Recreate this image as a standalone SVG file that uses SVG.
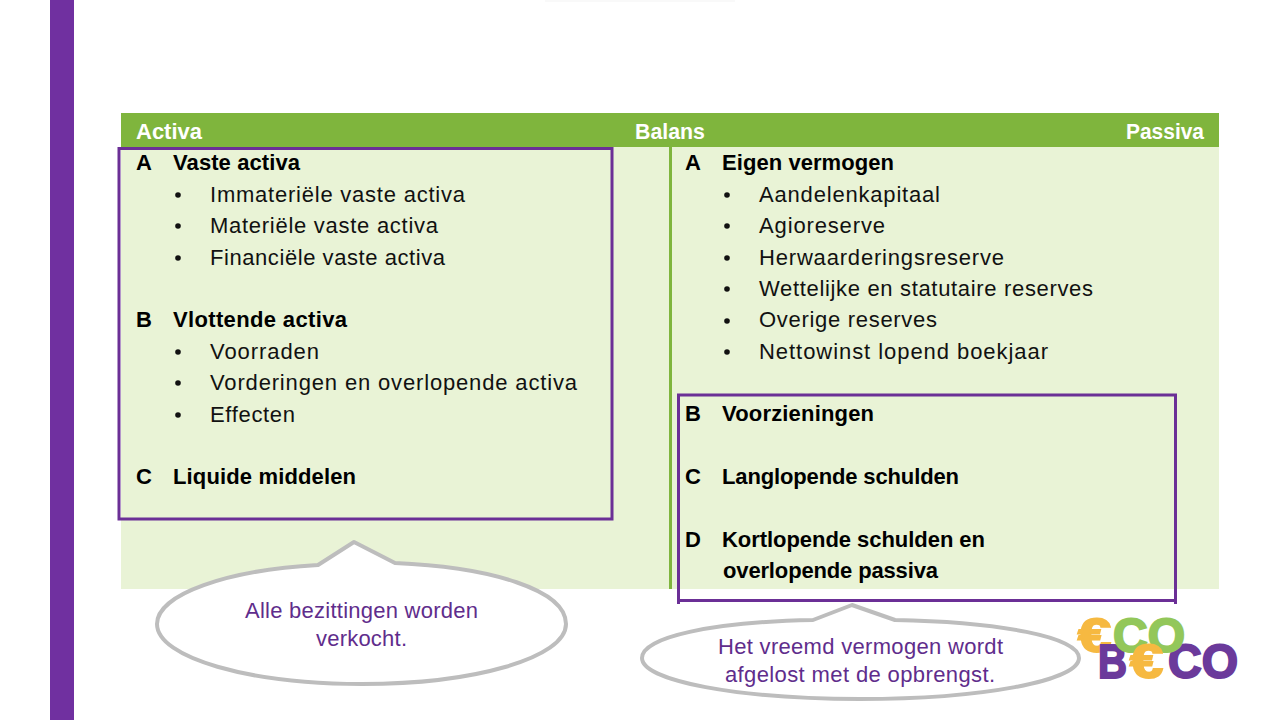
<svg xmlns="http://www.w3.org/2000/svg" width="1280" height="720" viewBox="0 0 1280 720">
<style>
text{font-family:"Liberation Sans",Arial,sans-serif;font-size:22px;fill:#111}
.b{font-weight:700;fill:#000;font-size:22px}
.h{font-weight:700;fill:#fff}
.c{fill:#5f2d8c;font-size:22px}
.box{fill:none;stroke:#6b2f96;stroke-width:3}
.call{fill:#fff;stroke:#bdbdbd;stroke-width:4;stroke-linejoin:round}
.d{fill:#111}
.logo{font-weight:700;font-size:48px;stroke-width:2}
.y{fill:#f6b941;stroke:#f6b941}
.g{fill:#93c75a;stroke:#93c75a}
.p{fill:#6b3a9b;stroke:#6b3a9b}
</style>
<rect width="1280" height="720" fill="#fff"/>
<rect x="545" y="0" width="190" height="2" fill="#f9f9f9"/>
<rect x="50" y="0" width="24" height="720" fill="#7030a0"/>
<g id="table">
<rect x="121" y="147" width="1098" height="442" fill="#e9f3d6"/>
<rect x="121" y="113" width="1098" height="34" fill="#7fb53d"/>
<rect x="669" y="147" width="3" height="442" fill="#7fb53d"/>
<text class="h" x="136" y="139" textLength="66" lengthAdjust="spacingAndGlyphs">Activa</text>
<text class="h" x="635" y="139" textLength="70" lengthAdjust="spacingAndGlyphs">Balans</text>
<text class="h" x="1126" y="139" textLength="78" lengthAdjust="spacingAndGlyphs">Passiva</text>
</g>
<g id="activa">
<text class="b" x="136" y="170">A</text>
<text class="b" x="173" y="170" textLength="127">Vaste activa</text>
<circle class="d" cx="178" cy="195" r="2.800"/>
<text x="210" y="201.500" textLength="255">Immateriële vaste activa</text>
<circle class="d" cx="178" cy="226" r="2.800"/>
<text x="210" y="233" textLength="228">Materiële vaste activa</text>
<circle class="d" cx="178" cy="258" r="2.800"/>
<text x="210" y="264.500" textLength="235">Financiële vaste activa</text>
<text class="b" x="136" y="327">B</text>
<text class="b" x="173" y="327" textLength="174">Vlottende activa</text>
<circle class="d" cx="178" cy="352" r="2.800"/>
<text x="210" y="358.500" textLength="109">Voorraden</text>
<circle class="d" cx="178" cy="383" r="2.800"/>
<text x="210" y="390" textLength="367">Vorderingen en overlopende activa</text>
<circle class="d" cx="178" cy="415" r="2.800"/>
<text x="210" y="421.500" textLength="85">Effecten</text>
<text class="b" x="136" y="484">C</text>
<text class="b" x="173" y="484" textLength="183">Liquide middelen</text>
</g>
<g id="passiva">
<text class="b" x="685" y="170">A</text>
<text class="b" x="722" y="170" textLength="172">Eigen vermogen</text>
<circle class="d" cx="727" cy="195" r="2.800"/>
<text x="759" y="201.500" textLength="181">Aandelenkapitaal</text>
<circle class="d" cx="727" cy="226" r="2.800"/>
<text x="759" y="233" textLength="126">Agioreserve</text>
<circle class="d" cx="727" cy="258" r="2.800"/>
<text x="759" y="264.500" textLength="245">Herwaarderingsreserve</text>
<circle class="d" cx="727" cy="289" r="2.800"/>
<text x="759" y="295.500" textLength="334">Wettelijke en statutaire reserves</text>
<circle class="d" cx="727" cy="321" r="2.800"/>
<text x="759" y="327" textLength="178">Overige reserves</text>
<circle class="d" cx="727" cy="352" r="2.800"/>
<text x="759" y="358.500" textLength="289">Nettowinst lopend boekjaar</text>
<text class="b" x="685" y="421">B</text>
<text class="b" x="722" y="421" textLength="152">Voorzieningen</text>
<text class="b" x="685" y="484">C</text>
<text class="b" x="722" y="484" textLength="237">Langlopende schulden</text>
<text class="b" x="685" y="547">D</text>
<text class="b" x="722" y="547" textLength="263">Kortlopende schulden en</text>
<text class="b" x="723" y="578" textLength="215">overlopende passiva</text>
</g>
<g id="connectors">
<rect class="box" x="119" y="148.500" width="493" height="370.500"/>
<path class="box" d="M678.500 604V395H1175.500V604M678.500 600.500H1175.500"/>
</g>
<g id="callout-left">
<path class="call" d="M318 565L354 542L395 563C491 567 566 590 566 624C566 658 474 684 362 684C250 684 157 658 157 624C157 594 228 570 318 565Z"/>
<text class="c" x="245" y="618" textLength="233">Alle bezittingen worden</text>
<text class="c" x="316" y="646" textLength="91">verkocht.</text>
</g>
<g id="callout-right">
<path class="call" d="M813 620L852 605L895 620C1000 622 1079 637 1079 658C1079 681 981 699 860 699C739 699 642 681 642 658C642 637 712 622 813 620Z"/>
<text class="c" x="718" y="654" textLength="285">Het vreemd vermogen wordt</text>
<text class="c" x="725" y="682" textLength="270">afgelost met de opbrengst.</text>
</g>
<g id="logo">
<text class="logo y" x="1078" y="651.500" textLength="33" lengthAdjust="spacingAndGlyphs">€</text>
<text class="logo p" x="1098" y="678" textLength="29" lengthAdjust="spacingAndGlyphs">B</text>
<text class="logo p" x="1168" y="678" textLength="70" lengthAdjust="spacingAndGlyphs">CO</text>
<text class="logo g" x="1113" y="651.500" textLength="72" lengthAdjust="spacingAndGlyphs">CO</text>
<text class="logo y" x="1130" y="678" textLength="33" lengthAdjust="spacingAndGlyphs">€</text>
</g>
</svg>
